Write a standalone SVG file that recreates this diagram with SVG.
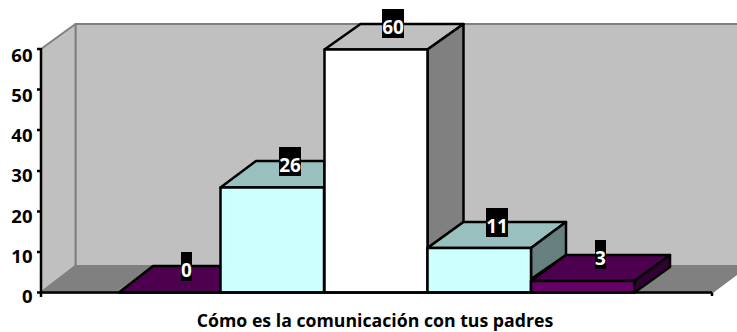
<svg xmlns="http://www.w3.org/2000/svg" width="737" height="332" viewBox="0 0 737 332">
<style>
.w{stroke:#808080;stroke-width:2;stroke-linejoin:round}
.b{stroke:#000;stroke-width:2.5;stroke-linejoin:round}
.t{font-family:"Open Sans","Liberation Sans",sans-serif;font-weight:700}
.a{font-size:18.5px;fill:#000;text-anchor:end}
.l{font-size:19px;fill:#fff;text-anchor:middle}
.c{font-size:17.7px;fill:#000;text-anchor:middle}
.pf{fill:#660066}.pt{fill:#4d004d}.ps{fill:#330033}
.cf{fill:#ccffff}.ct{fill:#99bfbf}.cs{fill:#668080}
</style>
<rect width="737" height="332" fill="#fff"/>
<g id="walls">
<polygon class="w" points="75.5,24 738,24 738,266 75.5,266" fill="#c0c0c0"/>
<polygon class="w" points="41,49 75.5,24 75.5,266 41,292.5" fill="#c0c0c0"/>
<polygon class="w" points="41,292.5 75.5,266 738,266 738,273 712,292.5" fill="#808080"/>
</g>
<g id="bar-0">
<polygon class="b pt" points="119,292.5 153,266 221,266 221,292.5"/>
</g>
<g id="bar-26">
<polygon class="b ct" points="220.5,187.5 256,161 324.5,161 324.5,187.5"/>
<rect class="b cf" x="220.5" y="187.5" width="103.5" height="105"/>
</g>
<g id="bar-60">
<polygon class="b" fill="#c0c0c0" points="324.5,49.5 360.5,24 463.5,24 427.5,49.5"/>
<polygon class="b" fill="#808080" points="427.5,49.5 463.5,24 463.5,222 427.5,248"/>
<rect class="b" fill="#fff" x="324.5" y="49.5" width="103" height="243"/>
</g>
<g id="bar-11">
<polygon class="b ct" points="427.5,248 463.5,222 566,222 531,248"/>
<polygon class="b cs" points="531,248 566,222 566,255 531,279"/>
<rect class="b cf" x="427.5" y="248" width="103.5" height="44.5"/>
</g>
<g id="bar-3">
<polygon class="b pt" points="531,281 566,255 670,255 634.5,281"/>
<polygon class="b ps" points="634.5,281 670,255 670,267 634.5,292.5"/>
<rect class="b pf" x="531" y="281" width="103.5" height="11.5"/>
</g>
<g id="axes">
<path fill="none" stroke="#000" stroke-width="2.5" d="M41,48V297M41,292.5H712M37,49H41M37,89.5H41M37,130H41M37,171H41M37,211.5H41M37,252H41M37,292.5H41M712,292.5V296"/>
</g>
<g id="axis-labels" class="t a">
<text x="32.5" y="61.5">60</text>
<text x="32.5" y="101.5">50</text>
<text x="32.5" y="142">40</text>
<text x="32.5" y="182">30</text>
<text x="32.5" y="222.5">20</text>
<text x="32.5" y="263">10</text>
<text x="32.5" y="302.5">0</text>
</g>
<g id="data-labels">
<rect x="181" y="252" width="11" height="29"/>
<rect x="279" y="147" width="22" height="29"/>
<rect x="382" y="9" width="22" height="29"/>
<rect x="486" y="208" width="22" height="29"/>
<rect x="595" y="240" width="11" height="29"/>
<g class="t l">
<text x="186.5" y="277">0</text>
<text x="290" y="172">26</text>
<text x="393" y="34">60</text>
<text x="497" y="233">11</text>
<text x="600.5" y="265">3</text>
</g>
</g>
<text id="axis-title" class="t c" x="375" y="327">Cómo es la comunicación con tus padres</text>
</svg>
